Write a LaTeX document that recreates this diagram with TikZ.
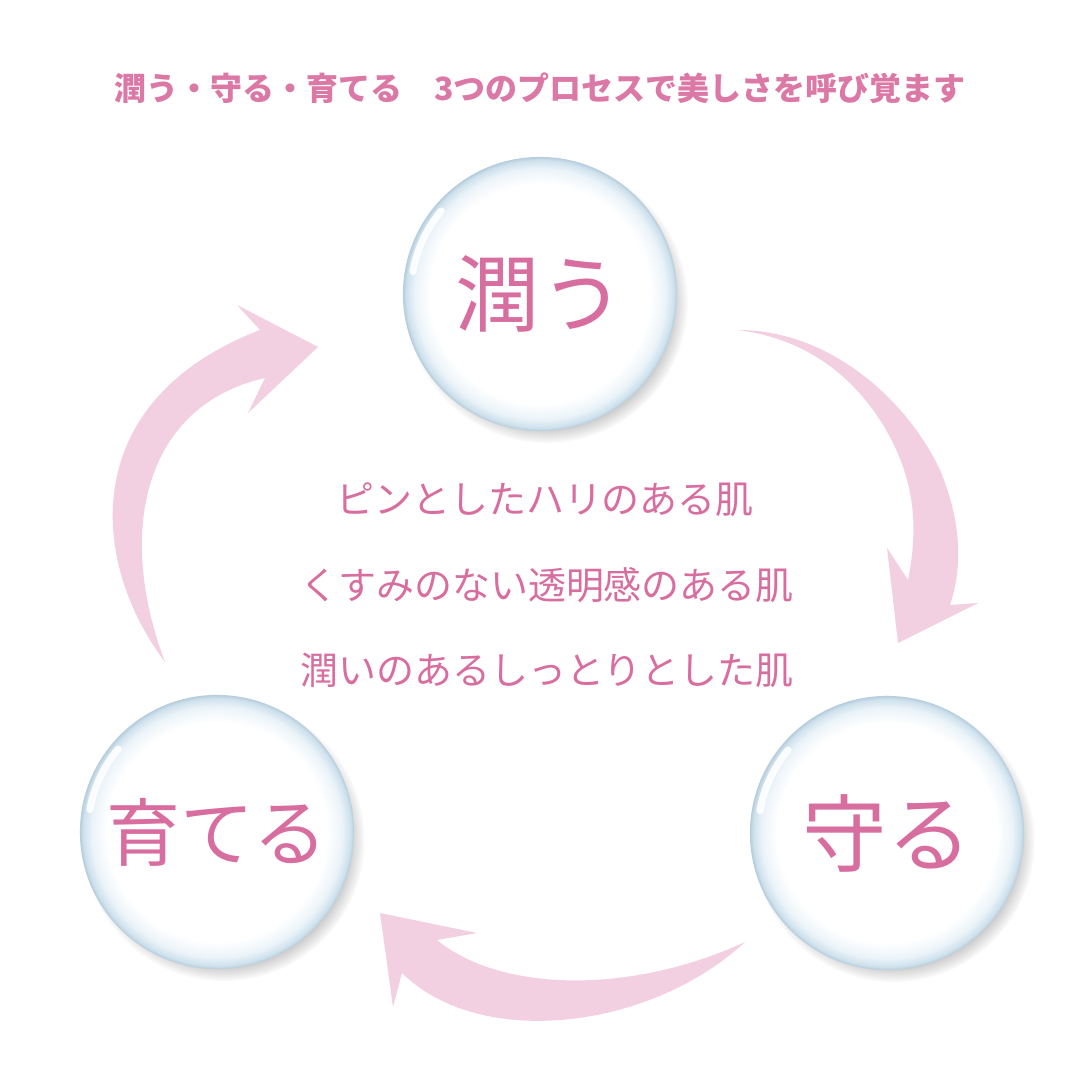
\documentclass[tikz,border=0pt]{standalone}
\usepackage{fontspec}
\newfontfamily\jpfont{Noto Sans CJK JP}
\usetikzlibrary{positioning,shadows}
\definecolor{rosetext}{RGB}{216,110,160}
\definecolor{rosetitle}{RGB}{220,120,166}
\definecolor{rosearrow}{RGB}{243,207,226}
\definecolor{bubblemid}{RGB}{236,244,249}
\definecolor{bubblerim}{RGB}{206,225,237}
\definecolor{bubbleedge}{RGB}{182,204,218}
\pgfdeclareradialshading{bubble}{\pgfpoint{0bp}{0bp}}{color(0bp)=(white); color(20bp)=(white); color(22.8bp)=(bubblemid); color(24.4bp)=(bubblerim); color(25bp)=(bubbleedge); color(50bp)=(bubbleedge)}
\tikzset{
  bubblenode/.style={circle,minimum size=2.74cm,inner sep=0pt,shading=bubble,
    circular drop shadow={shadow xshift=1.8pt,shadow yshift=-2.2pt,shadow scale=1.03,opacity=.55},
    text=rosetext,font=\jpfont\fontsize{24pt}{28pt}\selectfont},
  gloss/.style={white,line width=2pt,line cap=round,opacity=.9},
  skinline/.style={text=rosetext,font=\jpfont\fontsize{10.8pt}{13pt}\selectfont},
  cyclearrow/.style={fill=rosearrow,draw=none}
}
\begin{document}
\begin{tikzpicture}[x=0.01cm,y=-0.01cm]
  \useasboundingbox[fill=white] (0,0) rectangle (1080,1080);
  \node[text=rosetitle,font=\jpfont\bfseries\fontsize{9.1pt}{11pt}\selectfont]
    (title) at (540,88) {潤う・守る・育てる　3つのプロセスで美しさを呼び覚ます};

  \fill[cyclearrow] (738,330) .. controls (830,330) and (907,400) .. (940,470)
    .. controls (965,530) and (960,575) .. (950,605)
    -- (978,603) -- (898,643) -- (887,548) -- (908,580)
    .. controls (920,520) and (912,475) .. (885,428)
    .. controls (850,370) and (800,338) .. (738,330) -- cycle;
  \fill[cyclearrow] (745,942) .. controls (650,1030) and (480,1050) .. (402,973)
    -- (393,1007) -- (380,913) -- (477,933) -- (437,940)
    .. controls (500,992) and (630,995) .. (745,942) -- cycle;
  \fill[cyclearrow] (165,662) .. controls (88,560) and (78,400) .. (260,330)
    -- (237,305) -- (318,347) -- (248,413) -- (265,378)
    .. controls (145,405) and (115,530) .. (165,662) -- cycle;

  \node[bubblenode] (uru) at (540,294) {潤う};
  \node[bubblenode] (mamoru) at (887,833) {守る};
  \node[bubblenode,font=\jpfont\fontsize{21pt}{25pt}\selectfont] (sodateru) at (217,832) {育てる};
  \foreach \b in {uru,mamoru,sodateru}
    \draw[gloss] ([shift={(140:1.29cm)}]\b.center) arc (140:170:1.29cm);

  \node[skinline] (hari) at (545,500) {ピンとしたハリのある肌};
  \node[skinline] (tomei) at (547,585) {くすみのない透明感のある肌};
  \node[skinline] (shittori) at (547,670) {潤いのあるしっとりとした肌};
\end{tikzpicture}
\end{document}
